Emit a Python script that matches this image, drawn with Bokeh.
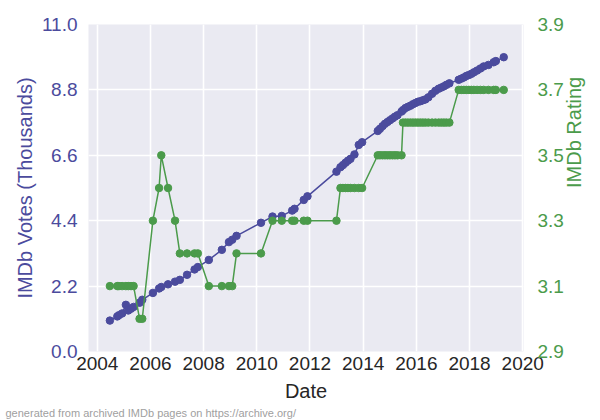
import math
import pandas as pd
from bokeh.plotting import figure
from bokeh.models import Range1d, LinearAxis, FixedTicker, PrintfTickFormatter, Title
from bokeh.embed import file_html
from bokeh.resources import INLINE

# ---- data ----
dates = [
    "2004-06-22", "2004-10-02", "2004-10-24", "2004-12-07", "2005-01-28", "2005-03-02",
    "2005-04-09", "2005-05-14", "2005-08-04", "2005-09-10", "2006-02-03", "2006-04-29",
    "2006-05-29", "2006-08-30", "2006-12-04", "2007-02-08", "2007-05-18", "2007-08-29",
    "2007-10-13", "2008-03-12", "2008-09-07", "2008-12-14", "2009-01-28", "2009-03-28",
    "2010-02-27", "2010-08-04", "2010-12-09", "2011-05-01", "2011-06-02", "2011-10-07",
    "2011-11-27", "2012-12-30", "2013-02-23", "2013-03-29", "2013-05-03", "2013-06-06",
    "2013-07-10", "2013-09-03", "2013-11-01", "2013-12-17", "2014-07-20", "2014-08-19",
    "2014-09-23", "2014-10-27", "2014-11-30", "2015-01-03", "2015-02-07", "2015-03-13",
    "2015-04-17", "2015-06-11", "2015-07-01", "2015-08-04", "2015-09-07", "2015-10-12",
    "2015-11-15", "2015-12-19", "2016-01-22", "2016-02-25", "2016-03-30", "2016-05-04",
    "2016-06-14", "2016-08-04", "2016-09-19", "2016-11-03", "2016-12-10", "2017-01-14",
    "2017-02-17", "2017-03-30", "2017-08-05", "2017-09-11", "2017-10-15", "2017-11-18",
    "2017-12-23", "2018-01-26", "2018-03-01", "2018-04-14", "2018-05-30", "2018-07-14",
    "2018-09-17", "2018-11-28", "2018-12-28", "2019-04-15",
]
votes_thousands = [
    1.04, 1.18, 1.22, 1.28, 1.57, 1.38,
    1.44, 1.50, 1.64, 1.74, 1.97, 2.12,
    2.17, 2.26, 2.35, 2.41, 2.58, 2.76,
    2.84, 3.08, 3.42, 3.68, 3.76, 3.89,
    4.33, 4.54, 4.56, 4.74, 4.80, 5.10,
    5.22, 6.05, 6.20, 6.27, 6.35, 6.42,
    6.48, 6.63, 6.95, 7.04, 7.42, 7.49,
    7.58, 7.66, 7.72, 7.78, 7.84, 7.90,
    7.95, 8.07, 8.12, 8.19, 8.23, 8.27,
    8.32, 8.36, 8.40, 8.42, 8.45, 8.48,
    8.55, 8.67, 8.77, 8.84, 8.88, 8.92,
    8.97, 9.02, 9.14, 9.18, 9.22, 9.27,
    9.30, 9.34, 9.39, 9.45, 9.52, 9.59,
    9.64, 9.73, 9.77, 9.90,
]
rating = [
    3.1, 3.1, 3.1, 3.1, 3.1, 3.1,
    3.1, 3.1, 3.0, 3.0, 3.3, 3.4,
    3.5, 3.4, 3.3, 3.2, 3.2, 3.2,
    3.2, 3.1, 3.1, 3.1, 3.1, 3.2,
    3.2, 3.3, 3.3, 3.3, 3.3, 3.3,
    3.3, 3.3, 3.4, 3.4, 3.4, 3.4,
    3.4, 3.4, 3.4, 3.4, 3.5, 3.5,
    3.5, 3.5, 3.5, 3.5, 3.5, 3.5,
    3.5, 3.5, 3.6, 3.6, 3.6, 3.6,
    3.6, 3.6, 3.6, 3.6, 3.6, 3.6,
    3.6, 3.6, 3.6, 3.6, 3.6, 3.6,
    3.6, 3.6, 3.7, 3.7, 3.7, 3.7,
    3.7, 3.7, 3.7, 3.7, 3.7, 3.7,
    3.7, 3.7, 3.7, 3.7,
]
year_ticks = [2004, 2006, 2008, 2010, 2012, 2014, 2016, 2018, 2020]
votes_ticks = [0.0, 2.2, 4.4, 6.6, 8.8, 11.0]
rating_ticks = [2.9, 3.1, 3.3, 3.5, 3.7, 3.9]

# decimal years from the dates
d = pd.to_datetime(pd.Series(dates))
days_in_year = d.dt.is_leap_year.map({True: 366, False: 365})
x = list(d.dt.year + (d.dt.dayofyear - 0.5) / days_in_year)

BLUE = "#4b4b9d"
GREEN = "#4b9b4b"
FONT = "Liberation Sans"
DARK = "#262626"

p = figure(width=600, height=420, output_backend="svg", toolbar_location=None,
           x_range=Range1d(2003.67, 2020.03), y_range=Range1d(0, 11.0),
           min_border_left=88, min_border_right=77, min_border_top=24, min_border_bottom=69)
p.extra_y_ranges = {"rating": Range1d(2.9, 3.9)}

p.background_fill_color = "#EAEAF2"
p.border_fill_color = "white"
p.outline_line_color = None

# axes
p.xaxis.ticker = FixedTicker(ticks=year_ticks)
p.xaxis.formatter = PrintfTickFormatter(format="%d")
p.xaxis.axis_label = "Date"
p.yaxis.ticker = FixedTicker(ticks=votes_ticks)
p.yaxis.formatter = PrintfTickFormatter(format="%.1f")
p.yaxis.axis_label = "IMDb Votes (Thousands)"

raxis = LinearAxis(y_range_name="rating", ticker=FixedTicker(ticks=rating_ticks),
                   formatter=PrintfTickFormatter(format="%.1f"), axis_label="IMDb Rating")
raxis.axis_label_orientation = math.pi / 2
p.add_layout(raxis, "right")

for ax in [p.xaxis[0], p.yaxis[0], raxis]:
    ax.axis_line_color = None
    ax.major_tick_line_color = None
    ax.minor_tick_line_color = None
    ax.major_tick_out = 0
    ax.major_tick_in = 0
    ax.minor_tick_out = 0
    ax.minor_tick_in = 0
    ax.major_label_text_font = FONT
    ax.major_label_text_font_size = "19px"
    ax.axis_label_text_font = FONT
    ax.axis_label_text_font_size = "20px"
    ax.axis_label_text_font_style = "normal"

p.xaxis.major_label_standoff = 5
p.xaxis.major_label_text_color = DARK
p.xaxis.axis_label_text_color = DARK
p.xaxis.axis_label_standoff = 7
p.yaxis.major_label_standoff = 11
p.yaxis.major_label_text_color = BLUE
p.yaxis.axis_label_text_color = BLUE
p.yaxis.axis_label_standoff = 3
raxis.major_label_standoff = 14
raxis.major_label_text_color = GREEN
raxis.axis_label_text_color = GREEN
raxis.axis_label_standoff = 7

p.xgrid.ticker = FixedTicker(ticks=year_ticks)
p.ygrid.ticker = FixedTicker(ticks=votes_ticks)
p.grid.grid_line_color = "white"
p.grid.grid_line_width = 1.6

# series
p.line(x, votes_thousands, line_color=BLUE, line_width=1.5)
p.scatter(x, votes_thousands, size=7.5, fill_color=BLUE, line_color=BLUE)
p.line(x, rating, line_color=GREEN, line_width=1.5, y_range_name="rating")
p.scatter(x, rating, size=7.5, fill_color=GREEN, line_color=GREEN, y_range_name="rating")

note = Title(text="generated from archived IMDb pages on https://archive.org/",
             align="left", offset=-83, standoff=0,
             text_font=FONT, text_font_size="11px", text_color="#a0a0a0",
             text_font_style="normal")
p.add_layout(note, "below")

open("out.html", "w").write(file_html(p, INLINE))
